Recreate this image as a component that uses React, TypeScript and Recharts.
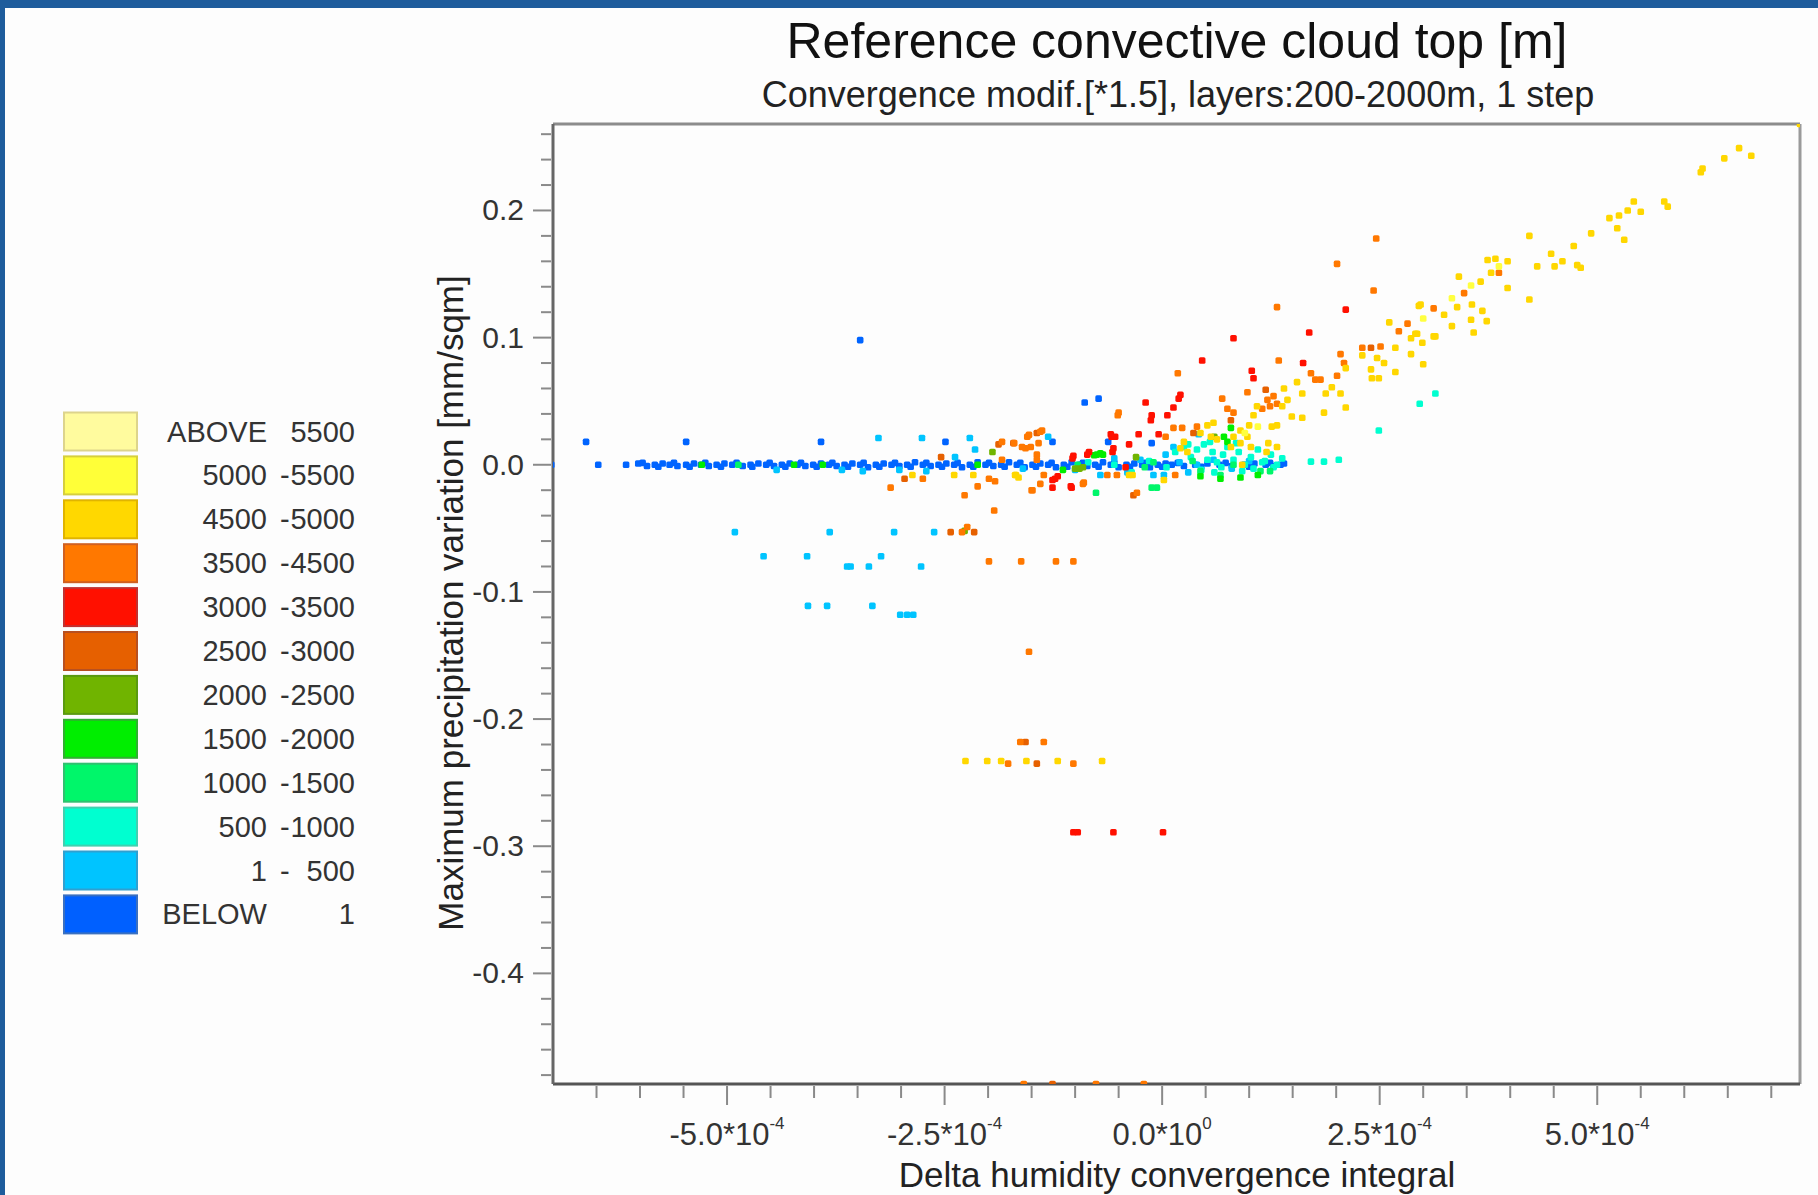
import React from "react";
import { ScatterChart, Scatter, XAxis, YAxis, ReferenceLine } from "recharts";

// x values are in units of 10^-4, y in mm/sqm
type P = [number, number];

const below1: P[] = [
  [-7.02, 0], [-6.48, 0], [-6.16, 0], [-6.02, 0.001], [-5.92, -0.001], [-5.83, 0], [-5.74, 0.001],
  [-5.66, 0], [-5.57, -0.001], [-5.47, 0], [-5.38, 0.001], [-5.3, 0], [-5.21, -0.001], [-5.12, 0],
  [-5.03, 0.001], [-4.94, 0], [-4.82, -0.001], [-4.73, 0], [-4.64, 0.001], [-4.55, 0], [-4.46, -0.001],
  [-4.37, 0], [-4.28, 0.001], [-4.19, 0], [-4.1, -0.001], [-4.01, 0], [-3.92, 0.001], [-3.83, 0],
  [-3.74, -0.001], [-3.65, 0], [-3.56, 0.001], [-3.47, 0], [-3.38, -0.002], [-3.29, 0], [-3.2, 0.001],
  [-3.11, 0], [-3.02, -0.001], [-2.93, 0], [-2.84, 0.002], [-2.75, 0], [-2.66, -0.001], [-2.57, 0],
  [-2.48, 0.001], [-2.39, 0], [-2.3, -0.002], [-2.21, 0], [-2.12, 0.002], [-2.03, 0], [-1.94, -0.001],
  [-1.85, 0], [-1.76, 0.002], [-1.67, 0], [-1.58, -0.002], [-1.49, 0], [-1.4, 0.001], [-1.31, 0],
  [-1.22, -0.002], [-1.13, 0], [-1.04, 0.002], [-0.95, 0], [-0.86, -0.001], [-0.77, 0], [-0.68, 0.002],
  [-0.59, 0], [-0.5, -0.002], [-0.41, 0], [-0.32, 0.001], [-0.23, 0], [-0.14, -0.002], [-0.05, 0],
  [0.04, 0.001], [0.11, 0], [0.25, -0.001], [0.38, 0], [0.52, 0.001], [0.66, 0], [0.8, -0.001],
  [0.94, 0], [1.06, 0.001], [1.19, 0], [1.28, -0.001], [1.36, 0], [1.4, 0.001],
  [-5.97, 0.0015], [-5.79, -0.0015], [-5.61, 0.0015], [-5.43, -0.0015], [-5.25, 0.0015], [-5.07, -0.0015],
  [-4.89, 0.0015], [-4.71, -0.0015], [-4.51, 0.0015], [-4.33, -0.0015], [-4.15, 0.0015], [-3.97, -0.0015],
  [-3.79, 0.0015], [-3.61, -0.0015], [-3.43, 0.0015], [-3.25, -0.0015], [-3.07, 0.0015], [-2.89, -0.0015],
  [-2.71, 0.0015], [-2.53, -0.0015], [-2.35, 0.0015], [-2.17, -0.0015], [-1.99, 0.0015], [-1.81, -0.0015],
  [-1.63, 0.0015], [-1.45, -0.0015], [-1.27, 0.0015], [-1.09, -0.0015], [-0.91, 0.0015], [-0.73, -0.0015],
  [-0.55, 0.0015], [-0.37, -0.0015], [-0.19, 0.0015], [0.0, -0.0015], [0.18, 0.0015], [0.45, -0.0015],
  [0.73, 0.0015], [1.0, -0.0015], [1.24, 0.0015],
  [-6.62, 0.018], [-5.47, 0.018], [-3.92, 0.018], [-2.49, 0.018], [-1.26, 0.018], [-0.89, 0.049],
  [-0.73, 0.052], [-0.62, 0.018], [-0.12, 0.017], [-3.47, 0.098],
];

const r1to500: P[] = [
  [-3.26, 0.021], [-2.76, 0.021], [-2.21, 0.021], [-2.15, 0.012], [-2.38, 0.006], [-1.31, 0.022],
  [-3.68, -0.004], [-3.44, -0.005], [-4.43, -0.004], [-3.02, -0.004], [-2.71, -0.005],
  [-4.91, -0.053], [-3.82, -0.053], [-3.08, -0.053], [-2.62, -0.053],
  [-4.58, -0.072], [-4.08, -0.072], [-3.23, -0.072],
  [-3.62, -0.08], [-3.58, -0.08], [-3.37, -0.08], [-2.77, -0.08],
  [-4.07, -0.111], [-3.85, -0.111], [-3.33, -0.111],
  [-3.01, -0.118], [-2.93, -0.118], [-2.86, -0.118],
  [0.42, 0.024], [0.13, 0.014], [0.04, 0.008], [-0.71, -0.008], [-0.1, -0.008], [0.02, -0.008],
  [0.4, 0.0], [0.59, 0.004], [-1.0, -0.004], [-0.4, -0.006], [-0.25, 0.004], [0.8, -0.003],
  [0.3, -0.006], [-1.6, -0.003], [-0.55, 0.005], [1.0, 0.003], [0.2, 0.002],
];

const r500to1000: P[] = [
  [0.15, 0.01], [0.25, 0.014], [0.33, 0.006], [0.4, 0.012], [0.48, 0.016], [0.52, 0.004], [0.58, 0.01],
  [0.63, 0.002], [0.7, 0.008], [0.75, 0.014], [0.82, 0.004], [0.88, 0.01], [0.95, 0.0], [1.02, 0.006],
  [1.1, 0.012], [1.18, 0.003], [1.25, 0.008], [1.32, 0.0], [1.38, 0.005], [0.45, -0.004], [0.6, -0.006],
  [0.92, -0.005], [1.05, -0.003], [-0.35, -0.006], [-0.55, 0.0], [-0.85, 0.002], [-0.15, 0.003],
  [0.05, -0.002], [1.71, 0.0025], [1.86, 0.0025], [2.03, 0.004], [2.49, 0.027], [2.96, 0.048],
  [3.14, 0.056], [0.55, 0.018], [0.85, 0.017], [1.15, 0.002], [0.3, 0.016], [0.68, -0.002], [1.28, -0.002],
];

const r1000to1500: P[] = [
  [-0.76, -0.022], [-0.12, -0.018], [-0.06, -0.018], [0.44, -0.005], [0.67, -0.008], [0.82, 0.0],
  [1.13, -0.005], [1.24, -0.005], [-0.97, 0.0], [-0.2, -0.002], [-0.1, 0.002], [-4.87, 0.0], [0.35, 0.003],
];

const r1500to2000: P[] = [
  [-0.75, 0.008], [-0.71, 0.009], [0.71, 0.022], [0.79, 0.029], [0.75, 0.018], [0.44, -0.009],
  [0.67, -0.011], [-0.78, 0.0075], [-1.14, -0.004], [-5.29, 0.0], [-4.23, 0.0], [-3.9, 0.0],
  [-2.12, 0.0], [0.9, -0.01], [1.1, -0.008], [-0.68, 0.008],
];

const r2000to2500: P[] = [
  [-1.95, 0.01], [-1.0, -0.003], [-0.95, -0.003], [-0.91, -0.002], [0.6, 0.022], [-2.27, -0.052], [-0.3, 0.006],
];

const r2500to3000: P[] = [
  [-2.43, -0.053], [-2.16, -0.053], [-1.88, 0.016], [-2.54, 0.006], [-1.26, -0.487], [-2.96, -0.011],
  [-1.44, -0.235], [-1.57, -0.218], [1.19, 0.059], [0.79, 0.035], [-1.44, 0.025], [-0.33, -0.024],
  [0.36, 0.025], [2.4, 0.092], [-1.71, 0.017],
];

const r3000to3500: P[] = [
  [-1.26, -0.012], [-1.2, -0.009], [-1.26, -0.018], [-1.04, -0.018], [-1.02, 0.007], [-0.84, 0.01],
  [-0.58, 0.022], [-0.56, 0.013], [2.11, 0.122], [1.69, 0.104], [0.82, 0.0995], [0.46, 0.082],
  [1.03, 0.074], [1.05, 0.068], [1.62, 0.08], [-0.19, 0.049], [0.21, 0.055], [0.19, 0.052],
  [0.13, 0.045], [0.06, 0.039], [-0.12, 0.039], [-0.13, 0.035], [-0.59, 0.024], [-0.54, 0.022],
  [-0.57, 0.01], [-0.27, 0.024], [-0.04, 0.024], [-0.38, 0.016], [-1.03, 0.005], [-0.86, 0.008],
  [-0.42, -0.002], [-1.23, -0.011], [-1.05, -0.017],
  [-1.02, -0.289], [-0.97, -0.289], [-0.56, -0.289], [0.01, -0.289],
];

const r3500to4500: P[] = [
  [-3.12, -0.018], [-2.75, -0.011], [-2.27, -0.024], [-2.12, -0.017], [-1.99, -0.011], [-1.92, -0.013],
  [-1.93, -0.036], [-2.3, -0.053], [-2.24, -0.049], [-1.99, -0.076], [-1.62, -0.076], [-1.22, -0.076],
  [-1.02, -0.076], [-1.7, 0.017], [-1.57, 0.013], [-1.53, 0.0235], [-1.4, 0.026], [-1.42, 0.017],
  [-1.44, 0.008], [-1.5, -0.02], [-1.4, -0.015], [-0.91, -0.015], [-0.51, 0.039],
  [-1.53, -0.147], [-1.63, -0.218], [-1.36, -0.218], [-1.77, -0.235], [-1.02, -0.235],
  [-1.59, -0.487], [-0.76, -0.487], [-0.21, -0.487],
  [1.32, 0.124], [3.12, 0.123], [0.18, 0.072], [1.34, 0.082], [2.05, 0.087], [2.09, 0.08], [2.01, 0.07],
  [2.3, 0.092], [2.51, 0.093], [2.82, 0.111], [2.72, 0.105], [0.98, 0.057], [1.82, 0.067], [0.69, 0.052],
  [0.75, 0.044], [0.82, 0.041], [1.21, 0.051], [1.28, 0.054], [1.32, 0.048], [1.24, 0.046], [1.15, 0.044],
  [1.71, 0.072], [1.76, 0.067], [-0.5, 0.041], [0.13, 0.029], [0.23, 0.029], [0.4, 0.03], [0.04, 0.022],
  [-1.61, 0.014], [-1.55, 0.022], [-1.38, 0.027], [-1.51, 0.014], [-1.84, 0.018], [-1.44, 0.004],
  [-1.84, 0.004], [-1.49, -0.02], [-0.29, -0.022], [-0.9, -0.014], [-1.36, -0.008], [-0.63, -0.008],
  [-0.52, -0.008], [0.15, -0.008], [2.46, 0.178], [2.01, 0.158], [2.43, 0.137], [3.87, 0.151], [3.47, 0.135],
];

const r4500to5000: P[] = [
  [6.63, 0.249], [6.77, 0.243], [6.46, 0.241], [6.19, 0.23], [6.21, 0.233], [5.77, 0.207], [5.81, 0.203],
  [5.42, 0.207], [5.5, 0.199], [5.35, 0.2], [5.25, 0.196], [5.14, 0.194], [5.23, 0.186], [5.31, 0.177],
  [4.93, 0.182], [4.73, 0.172], [4.47, 0.166], [4.6, 0.16], [4.51, 0.156], [4.31, 0.156], [4.77, 0.157],
  [4.81, 0.155], [4.22, 0.18], [4.22, 0.13], [3.97, 0.16], [3.97, 0.139], [3.74, 0.161], [3.83, 0.162],
  [3.78, 0.151], [3.66, 0.144], [3.41, 0.148], [3.39, 0.124], [3.56, 0.126], [3.55, 0.114], [3.68, 0.121],
  [3.73, 0.113], [3.24, 0.118], [3.33, 0.109], [3.58, 0.104], [2.97, 0.126], [3.14, 0.101], [2.86, 0.0995],
  [2.93, 0.103], [2.99, 0.096], [2.86, 0.087], [3.0, 0.079], [2.95, 0.125], [2.61, 0.112], [2.91, 0.103],
  [3.12, 0.101], [2.68, 0.092], [2.68, 0.073], [2.3, 0.086], [2.47, 0.084], [2.55, 0.08], [2.4, 0.075],
  [2.41, 0.068], [2.49, 0.068], [2.11, 0.076], [1.95, 0.061], [2.05, 0.056], [1.88, 0.056], [1.86, 0.041],
  [2.11, 0.045], [1.4, 0.06], [1.55, 0.065], [1.61, 0.056], [1.44, 0.051], [1.38, 0.046], [1.49, 0.038],
  [1.61, 0.037], [1.32, 0.031], [1.26, 0.03], [1.09, 0.046], [1.05, 0.039], [1.0, 0.031], [0.9, 0.027],
  [0.98, 0.022], [0.9, 0.017], [1.02, 0.014], [0.82, 0.022], [0.79, 0.014], [0.59, 0.033], [0.52, 0.031],
  [0.63, 0.02], [0.56, 0.022], [0.44, 0.025], [0.25, 0.018], [0.21, 0.013], [0.29, 0.01], [1.32, 0.014],
  [1.22, 0.017], [1.2, 0.01], [-0.38, -0.008], [-0.34, -0.008], [0.02, -0.012], [-1.69, -0.008],
  [-1.65, -0.01], [0.92, 0.0], [-2.39, -0.008], [-2.87, -0.008], [-2.17, -0.008], [-1.68, -0.008],
  [7.33, 0.268],
  [-2.26, -0.233], [-2.01, -0.233], [-1.85, -0.233], [-1.56, -0.233], [-1.2, -0.233], [-0.69, -0.233],
];

const r5000to5500: P[] = [
  [3.87, 0.156], [3.55, 0.141], [3.33, 0.131], [3.0, 0.115], [0.95, 0.025], [1.1, 0.03],
];

const legendLow = ["ABOVE", "5000", "4500", "3500", "3000", "2500", "2000", "1500", "1000", "500", "1", "BELOW"];
const legendHigh = ["5500", "5500", "5000", "4500", "3500", "3000", "2500", "2000", "1500", "1000", "500", "1"];
const legendFill = ["#fffb9e", "#ffff38", "#ffd800", "#ff7800", "#ff1000", "#e66000", "#70b400", "#00ee00", "#00f66a", "#00ffd0", "#00c4ff", "#0060ff"];
const legendStroke = ["#ddd48c", "#d6cf3c", "#e0b400", "#d06020", "#c23030", "#b85020", "#5a9a10", "#30b030", "#30c070", "#40d0b0", "#30a0d0", "#3a70c0"];

// drawn back to front
const series: { data: P[]; color: string }[] = [
  { data: below1, color: "#0064ff" },
  { data: r1to500, color: "#00c4ff" },
  { data: r500to1000, color: "#00ffd0" },
  { data: r1000to1500, color: "#00f66a" },
  { data: r1500to2000, color: "#00ee00" },
  { data: r2000to2500, color: "#70b400" },
  { data: r2500to3000, color: "#e66000" },
  { data: r3000to3500, color: "#ff1000" },
  { data: r3500to4500, color: "#ff7800" },
  { data: r4500to5000, color: "#ffd700" },
  { data: r5000to5500, color: "#ffff40" },
];

const xMajor = [-5, -2.5, 0, 2.5, 5];
const yMajor = [-0.4, -0.3, -0.2, -0.1, 0, 0.1, 0.2];
const X_DOMAIN: [number, number] = [-7.0, 7.33];
const Y_DOMAIN: [number, number] = [-0.487, 0.268];

const xTicks: number[] = [];
for (let i = -13; i <= 14; i++) xTicks.push(i / 2);
const yTicks: number[] = [];
for (let i = -48; i <= 26; i += 2) yTicks.push(i / 100);

const FONT = "'Liberation Sans', Arial, sans-serif";

function XTick(props: any) {
  const { x, y, payload } = props;
  const v = payload.value;
  const major = xMajor.some((m) => Math.abs(m - v) < 1e-6);
  return (
    <g>
      <line x1={x} x2={x} y1={y + 2} y2={y + (major ? 21 : 14)} stroke="#8a8a8a" strokeWidth={2} />
      {major && (
        <text x={x} y={y + 61} textAnchor="middle" fontFamily={FONT} fontSize={31} fill="#333">
          {v.toFixed(1) + "*10"}
          <tspan dy={-16} fontSize={17}>{v === 0 ? "0" : "-4"}</tspan>
        </text>
      )}
    </g>
  );
}

function YTick(props: any) {
  const { x, y, payload } = props;
  const v = payload.value;
  const major = yMajor.some((m) => Math.abs(m - v) < 1e-6);
  return (
    <g>
      <line x1={x - 2} x2={x - (major ? 20 : 12)} y1={y} y2={y} stroke="#8a8a8a" strokeWidth={2} />
      {major && (
        <text x={x - 29} y={y + 10} textAnchor="end" fontFamily={FONT} fontSize={30} fill="#333">
          {v.toFixed(1)}
        </text>
      )}
    </g>
  );
}

// small square marker, like the original plot's pixels
function Dot(props: any) {
  const { cx, cy, fill } = props;
  if (cx == null || cy == null) return null;
  return <rect x={cx - 3.3} y={cy - 3.3} width={6.6} height={6.6} rx={1.6} fill={fill} />;
}

export default function App() {
  return (
    <div style={{ position: "absolute", left: 0, top: 0, width: 1818, height: 1195, background: "#fdfdfd", overflow: "hidden" }}>
      <ScatterChart width={1818} height={1195} margin={{ top: 124, right: 18, left: 0, bottom: 0 }}>
        <XAxis
          type="number"
          dataKey="x"
          domain={X_DOMAIN}
          allowDataOverflow
          ticks={xTicks}
          interval={0}
          height={111}
          tickSize={0}
          tickMargin={0}
          tickLine={false}
          axisLine={{ stroke: "#555", strokeWidth: 3 }}
          tick={<XTick />}
        />
        <YAxis
          type="number"
          dataKey="y"
          domain={Y_DOMAIN}
          allowDataOverflow
          ticks={yTicks}
          interval={0}
          width={553}
          tickSize={0}
          tickMargin={0}
          tickLine={false}
          axisLine={{ stroke: "#666", strokeWidth: 3 }}
          tick={<YTick />}
        />
        <ReferenceLine y={Y_DOMAIN[1]} stroke="#8c8c8c" strokeWidth={3} />
        <ReferenceLine x={X_DOMAIN[1]} stroke="#9a9a9a" strokeWidth={3} />
        {series.map((s, i) => (
          <Scatter
            key={i}
            data={s.data.map(([x, y]) => ({ x, y }))}
            fill={s.color}
            shape={<Dot />}
            isAnimationActive={false}
          />
        ))}
      </ScatterChart>
      <svg width={1818} height={1195} style={{ position: "absolute", left: 0, top: 0, pointerEvents: "none" }}>
        <rect x={0} y={0} width={1818} height={8} fill="#1e5c9c" />
        <rect x={0} y={0} width={5} height={1195} fill="#1e5c9c" />
        <text x={1177} y={58} textAnchor="middle" fontFamily={FONT} fontSize={50} fill="#111">
          Reference convective cloud top [m]
        </text>
        <text x={1178} y={107} textAnchor="middle" fontFamily={FONT} fontSize={36} fill="#222">
          Convergence modif.[*1.5], layers:200-2000m, 1 step
        </text>
        <text
          x={0}
          y={0}
          transform="translate(463 603) rotate(-90)"
          textAnchor="middle"
          fontFamily={FONT}
          fontSize={35}
          fill="#222"
        >
          Maximum precipitation variation [mm/sqm]
        </text>
        <text x={1177} y={1187} textAnchor="middle" fontFamily={FONT} fontSize={35} fill="#222">
          Delta humidity convergence integral
        </text>
        {legendLow.map((lbl, i) => {
          const cy = 431.5 + i * 43.9;
          const dash = i > 0 && i < 11;
          return (
            <g key={i}>
              <rect x={64} y={cy - 19} width={73} height={38} fill={legendFill[i]} stroke={legendStroke[i]} strokeWidth={2} />
              <text x={267} y={cy + 10} textAnchor="end" fontFamily={FONT} fontSize={29} fill="#333">
                {lbl}
              </text>
              {dash && (
                <text x={280} y={cy + 10} fontFamily={FONT} fontSize={29} fill="#333">
                  -
                </text>
              )}
              <text x={355} y={cy + 10} textAnchor="end" fontFamily={FONT} fontSize={29} fill="#333">
                {legendHigh[i]}
              </text>
            </g>
          );
        })}
      </svg>
    </div>
  );
}
